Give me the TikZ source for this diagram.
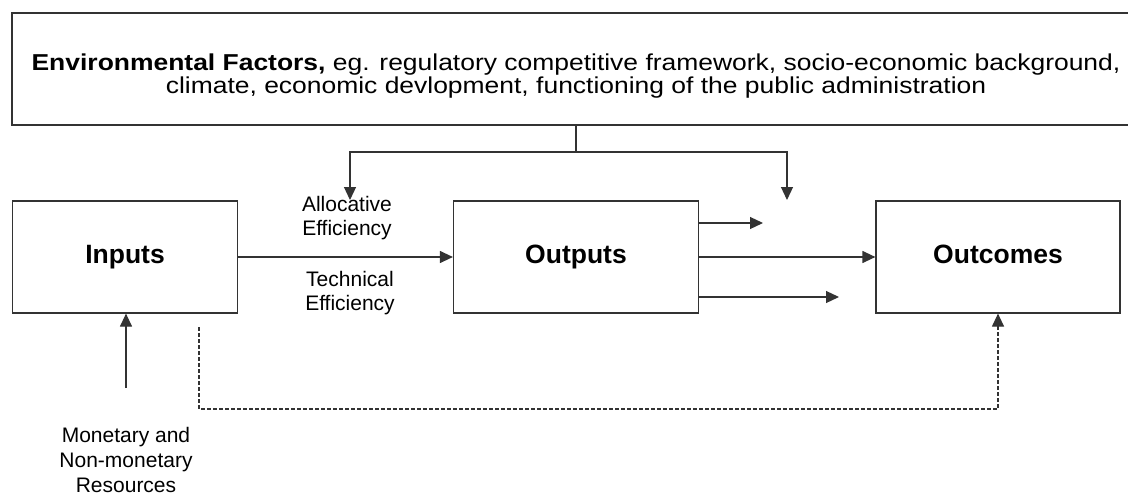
\documentclass[tikz,border=0pt]{standalone}
\usepackage{fontspec}
\setmainfont{Liberation Sans}
\newfontfamily\widefont[FakeStretch=1.15]{Liberation Sans}
\usetikzlibrary{arrows.meta}
\begin{document}
\begin{tikzpicture}[x=1pt,y=-1pt,
  line/.style={draw=black!80, line width=1.2pt},
  tip/.style={-{Triangle[length=13pt,width=12pt]}},
  stage/.style={line, rectangle, minimum height=112pt,
    font=\fontsize{26.5}{30}\selectfont\bfseries, inner sep=0pt,
    text height=19pt, text depth=5.5pt},
  label/.style={align=center, font=\fontsize{21}{24}\selectfont, inner sep=0pt},
  dashline/.style={line, dash pattern=on 4pt off 2pt}]
\useasboundingbox (0,0) rectangle (1128,495);

% environment box, running off the right edge, and its text
\node[line, rectangle, minimum width=1128pt, minimum height=112pt, inner sep=0pt]
  (env) at (576,69) {};
\node[align=center, inner sep=0pt, font=\widefont\fontsize{23}{23.3}\selectfont]
  (envtext) at (576,76)
  {\textbf{Environmental Factors,} eg. regulatory competitive framework, socio-economic background,\\
   climate, economic devlopment, functioning of the public administration};

% the three stages
\node[stage, minimum width=225pt] (in)  at (125,257) {Inputs};
\node[stage, minimum width=245pt] (out) at (576,257) {Outputs};
\node[stage, minimum width=244pt] (res) at (998,257) {Outcomes};

% labels
\node[label] (alloc) at (347,218) {Allocative\\Efficiency};
\node[label] (tech)  at (350,293) {Technical\\Efficiency};
\node[label, font=\fontsize{21}{25}\selectfont] (money) at (126,460)
  {Monetary and\\Non-monetary\\Resources};

% free ends
\coordinate (split) at (576,152);
\coordinate (envL) at (350,200);
\coordinate (envR) at (787,200);
\coordinate (o1) at (763,223);
\coordinate (o3) at (839,297);
\coordinate (mtop) at (126,388);
\coordinate (dstart) at (199,327);

% environment influences
\draw[line] (env.south -| split) -- (split);
\draw[line, tip] (split) -- (split -| envL) -- (envL);
\draw[line, tip] (split) -- (split -| envR) -- (envR);

% main chain
\draw[line, tip] (in.east) -- (out.west);
\draw[line, tip] (out.east) -- (res.west);
\draw[line, tip] (out.east |- o1) -- (o1);
\draw[line, tip] (out.east |- o3) -- (o3);

% resources into inputs
\draw[line, tip] (mtop) -- (in.south -| mtop);

% direct link from inputs to outcomes
\draw[dashline, tip] (dstart) -- ++(0,82) -| (res.south);
\end{tikzpicture}
\end{document}
